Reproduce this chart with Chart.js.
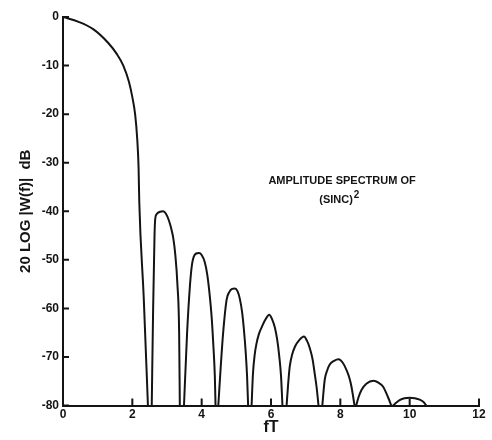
<!DOCTYPE html>
<html>
<head>
<meta charset="utf-8">
<script src="https://cdn.jsdelivr.net/npm/chart.js@4/dist/chart.umd.min.js"></script>
<style>
  html, body { margin: 0; padding: 0; background: #fff; }
  #wrap { width: 492px; height: 440px; }
</style>
</head>
<body>
<div id="wrap"><canvas id="chart" width="492" height="440"></canvas></div>
<script>
// axis ticks
const xTicks = [0, 2, 4, 6, 8, 10, 12];
const yTicks = [0, -10, -20, -30, -40, -50, -60, -70, -80];

// curve, one array per lobe: [fT, dB]
const mainLobe = [[0, 0], [0.45, -1.0], [0.87, -2.5], [1.3, -5.3], [1.55, -7.6], [1.74, -10], [1.9, -13.3],
  [2.0, -16.5], [2.08, -20], [2.14, -25], [2.18, -31], [2.2, -38], [2.33, -58], [2.45, -80]];
const lobe1 = [[2.56, -80], [2.6, -60], [2.64, -45], [2.66, -41.6], [2.7, -40.6], [2.8, -40.1], [2.89, -40.0],
  [2.97, -40.5], [3.05, -41.8], [3.12, -43.5], [3.18, -45.5], [3.24, -49], [3.3, -55], [3.35, -65], [3.37, -80]];
const lobe2 = [[3.49, -80], [3.58, -65], [3.66, -55.5], [3.72, -51], [3.77, -49.4], [3.84, -48.7], [3.92, -48.6],
  [4.0, -49.0], [4.09, -50.5], [4.16, -53], [4.22, -56.5], [4.29, -62], [4.34, -68], [4.38, -74], [4.4, -80]];
const lobe3 = [[4.48, -80], [4.55, -72], [4.62, -65], [4.72, -58.2], [4.8, -56.6], [4.88, -56], [4.96, -55.9],
  [5.03, -56.4], [5.1, -58], [5.17, -61], [5.22, -64.5], [5.27, -69], [5.31, -74], [5.34, -80]];
const lobe4 = [[5.44, -80], [5.48, -73.4], [5.53, -69.5], [5.58, -67.3], [5.65, -65.3], [5.73, -63.9], [5.84, -62.3],
  [5.95, -61.3], [6.03, -62.2], [6.11, -63.9], [6.18, -66.5], [6.24, -70], [6.29, -74], [6.33, -80]];
const lobe5 = [[6.45, -80], [6.49, -76], [6.54, -72], [6.61, -69.5], [6.69, -67.9], [6.82, -66.5], [6.95, -65.8],
  [7.04, -66.7], [7.12, -68.2], [7.2, -70.5], [7.26, -73.4], [7.32, -76.5], [7.37, -80]];
const lobe6 = [[7.48, -80], [7.55, -74.7], [7.62, -72.8], [7.69, -71.6], [7.82, -70.8], [7.95, -70.5],
  [8.07, -71.2], [8.18, -72.7], [8.26, -74.3], [8.32, -76.1], [8.41, -80]];
const lobe7 = [[8.46, -80], [8.52, -78.4], [8.61, -76.8], [8.75, -75.5], [8.96, -74.9], [9.1, -75.3],
  [9.23, -76.1], [9.37, -78.2], [9.47, -80]];
const lobe8 = [[9.52, -80], [9.6, -79.5], [9.71, -78.9], [9.85, -78.5], [10.0, -78.4], [10.15, -78.5],
  [10.29, -78.8], [10.4, -79.3], [10.48, -80]];

const noteLine1 = 'AMPLITUDE SPECTRUM OF';
const noteLine2 = '(SINC)';
const noteExponent = '2';

const ink = '#141414';
const fontFamily = '"Liberation Sans", Arial, sans-serif';

// lobes joined, broken by a null between each
const lobes = [mainLobe, lobe1, lobe2, lobe3, lobe4, lobe5, lobe6, lobe7, lobe8];
const points = [];
lobes.forEach((lobe, i) => {
  if (i > 0) points.push({ x: (lobe[0][0] + lobes[i - 1].at(-1)[0]) / 2, y: null });
  lobe.forEach(([x, y]) => points.push({ x, y }));
});

// ticks pointing into the plot + note text
const innerTicks = {
  id: 'innerTicks',
  afterDraw(chart) {
    const { ctx, scales: { x, y } } = chart;
    ctx.save();
    ctx.strokeStyle = ink;
    ctx.lineWidth = 2;
    ctx.beginPath();
    yTicks.forEach((v) => {
      const py = y.getPixelForValue(v);
      ctx.moveTo(x.left, py);
      ctx.lineTo(x.left + 6, py);
    });
    xTicks.forEach((v) => {
      if (v === 0) return;
      const px = x.getPixelForValue(v);
      ctx.moveTo(px, y.bottom);
      ctx.lineTo(px, y.bottom - 7);
    });
    ctx.stroke();

    ctx.fillStyle = ink;
    ctx.font = 'bold 11px ' + fontFamily;
    ctx.textAlign = 'center';
    ctx.textBaseline = 'alphabetic';
    const cx = x.getPixelForValue(8.05);
    ctx.fillText(noteLine1, cx, y.getPixelForValue(-34.3));
    const line2Y = y.getPixelForValue(-38.3);
    ctx.fillText(noteLine2, cx - 6, line2Y);
    const w = ctx.measureText(noteLine2).width;
    ctx.font = 'bold 10px ' + fontFamily;
    ctx.textAlign = 'left';
    ctx.fillText(noteExponent, cx - 6 + w / 2 + 1, line2Y - 5);
    ctx.restore();
  },
};

new Chart(document.getElementById('chart'), {
  type: 'line',
  data: {
    datasets: [
      {
        data: points,
        borderColor: ink,
        borderWidth: 2,
        pointRadius: 0,
        fill: false,
        spanGaps: false,
        cubicInterpolationMode: 'monotone',
      },
    ],
  },
  options: {
    responsive: false,
    animation: false,
    devicePixelRatio: 1,
    layout: { padding: { top: 17, right: 13, left: 0, bottom: 0 } },
    scales: {
      x: {
        type: 'linear',
        min: 0,
        max: 12,
        afterFit: (scale) => { scale.height = 34.5; },
        afterBuildTicks: (scale) => { scale.ticks = xTicks.map((value) => ({ value })); },
        grid: { display: false, drawTicks: false },
        border: { display: true, color: ink, width: 2 },
        ticks: { color: ink, padding: 2, font: { family: fontFamily, size: 12, weight: 'bold' } },
        title: {
          display: true,
          text: 'fT',
          color: ink,
          padding: { top: 0, bottom: 3 },
          font: { family: fontFamily, size: 16, weight: 'bold' },
        },
      },
      y: {
        min: -80,
        max: 0,
        afterFit: (scale) => { scale.width = 63; },
        afterBuildTicks: (scale) => { scale.ticks = yTicks.map((value) => ({ value })); },
        grid: { display: false, drawTicks: false },
        border: { display: true, color: ink, width: 2 },
        ticks: { color: ink, padding: 4, font: { family: fontFamily, size: 12, weight: 'bold' } },
        title: {
          display: true,
          text: '20 LOG |W(f)|  dB',
          color: ink,
          padding: { top: 17, bottom: 0 },
          font: { family: fontFamily, size: 15, weight: 'bold' },
        },
      },
    },
    plugins: {
      legend: { display: false },
      tooltip: { enabled: false },
    },
  },
  plugins: [innerTicks],
});
</script>
</body>
</html>
